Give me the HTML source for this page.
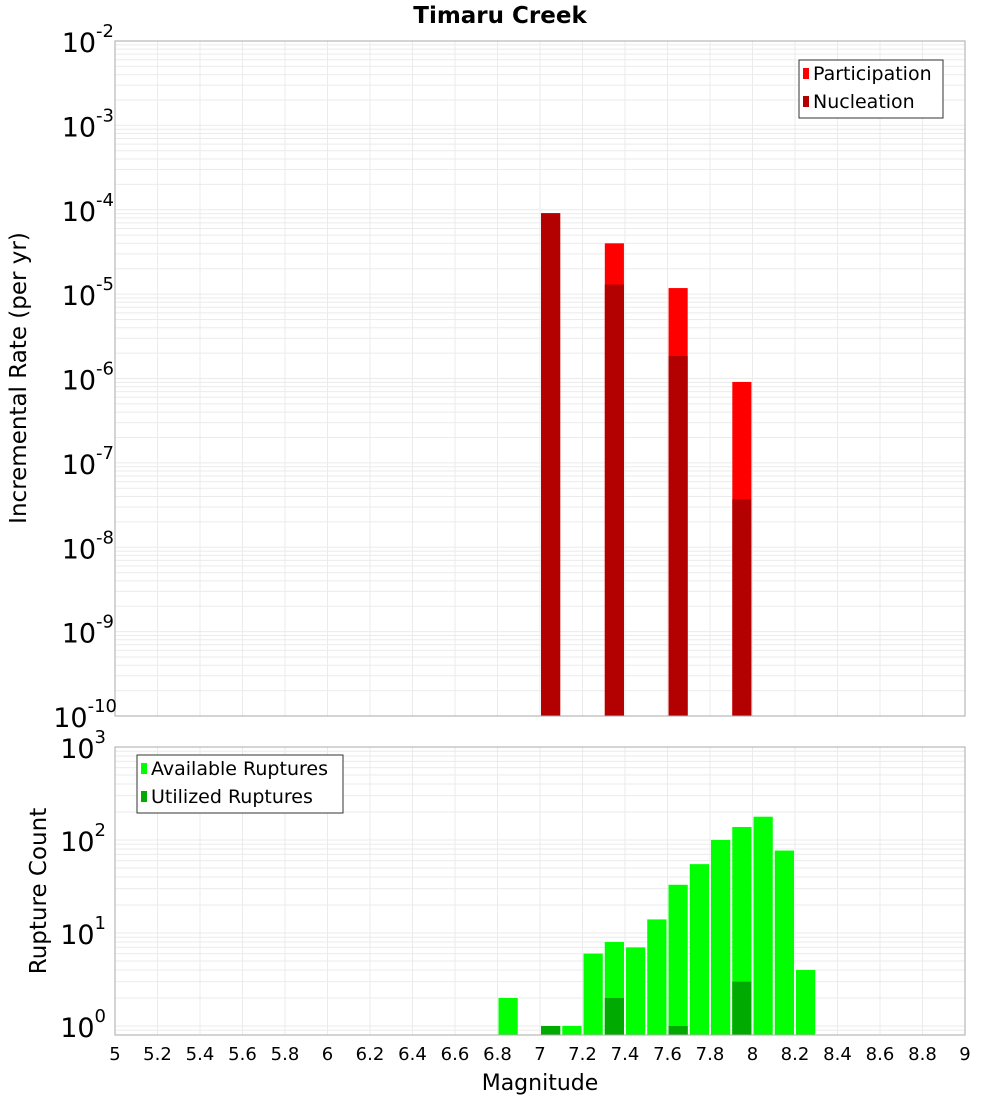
<!DOCTYPE html>
<html><head><meta charset="utf-8"><style>
body{margin:0;background:#fff;font-family:"Liberation Sans","DejaVu Sans",sans-serif}
svg text{font-family:"DejaVu Sans","Liberation Sans",sans-serif}
</style></head><body>
<svg id="c" width="1000" height="1100" xmlns="http://www.w3.org/2000/svg">
<text x="500" y="23" text-anchor="middle" font-size="23" font-weight="bold">Timaru Creek</text>
<text transform="translate(26,378) rotate(-90)" text-anchor="middle" font-size="23">Incremental Rate (per yr)</text>
<text transform="translate(46,891) rotate(-90)" text-anchor="middle" font-size="23">Rupture Count</text>
<text x="540" y="1090" text-anchor="middle" font-size="22">Magnitude</text>
<g id="g"></g>
</svg>
<script>
const rateMags=[7.05,7.35,7.65,7.95];
const participation=[9.1e-5,4.0e-5,1.18e-5,9.1e-7];
const nucleation=[9.1e-5,1.3e-5,1.85e-6,3.7e-8];
const countMags=[6.85,7.05,7.15,7.25,7.35,7.45,7.55,7.65,7.75,7.85,7.95,8.05,8.15,8.25];
const available=[2,1,1,6,8,7,14,33,55,100,138,178,77,4];
const utilMags=[7.05,7.35,7.65,7.95];
const utilized=[1,2,1,3];
const xTicks=[5,5.2,5.4,5.6,5.8,6,6.2,6.4,6.6,6.8,7,7.2,7.4,7.6,7.8,8,8.2,8.4,8.6,8.8,9];
const topExp=[-10,-9,-8,-7,-6,-5,-4,-3,-2];
const botExp=[0,1,2,3];

const NS="http://www.w3.org/2000/svg",G=document.getElementById('g');
function el(t,a,txt){const e=document.createElementNS(NS,t);for(const k in a)e.setAttribute(k,a[k]);if(txt!==undefined)e.textContent=txt;G.appendChild(e);return e;}
const L=115,R=965;
const x=m=>L+(m-5)/4*(R-L);
const T0=41,T1=716, yT=v=>T1-(Math.log10(v)+10)/8*(T1-T0);
const B0=747,B1=1035,Bz=1026, yB=v=>Bz-Math.log10(v)/3*(Bz-B0);

function grid(top,bot,yf,e0,e1){
  for(let m=5;m<=9.001;m+=0.2){const l=el('line',{x1:x(m),x2:x(m),y1:top,y2:bot,stroke:'#ebebeb'});}
  for(let e=e0;e<=e1;e++)for(let k=1;k<10;k++){const yy=yf(k*Math.pow(10,e));if(yy<top-0.5||yy>bot+0.5)continue;const l=el('line',{x1:L,x2:R,y1:yy,y2:yy,stroke:'#ebebeb'});}
}
grid(T0,T1,yT,-10,-2);
grid(B0,B1,yB,-1,3);

const bw=0.09;
rateMags.forEach((m,i)=>{
  const r=el('rect',{x:x(m-bw/2),y:yT(participation[i]),width:x(m+bw/2)-x(m-bw/2),height:T1-yT(participation[i]),fill:'#ff0000'});
  
  const n=el('rect',{x:x(m-bw/2),y:yT(nucleation[i]),width:x(m+bw/2)-x(m-bw/2),height:T1-yT(nucleation[i]),fill:'#b30000'});
  
});
countMags.forEach((m,i)=>{
  const r=el('rect',{x:x(m-0.05)+1,y:yB(available[i]),width:x(m+0.05)-x(m-0.05)-2,height:B1-yB(available[i]),fill:'#00ff00'});
  
});
utilMags.forEach((m,i)=>{
  const r=el('rect',{x:x(m-0.05)+1,y:yB(utilized[i]),width:x(m+0.05)-x(m-0.05)-2,height:B1-yB(utilized[i]),fill:'#00aa00'});
  
});
let f=el('rect',{x:L,y:T0,width:R-L,height:T1-T0,fill:'none',stroke:'#aaa'});
f=el('rect',{x:L,y:B0,width:R-L,height:B1-B0,fill:'none',stroke:'#aaa'});
xTicks.forEach(m=>{const t=el('text',{x:x(m),y:1060,'text-anchor':'middle','font-size':18},String(m));});
function ylab(yy,e){const t=el('text',{x:106,y:yy+11,'text-anchor':'end','font-size':27});
  const a=document.createElementNS(NS,'tspan');a.textContent='10';t.appendChild(a);const b=document.createElementNS(NS,'tspan');b.setAttribute('dy','-15');b.setAttribute('font-size','18');b.textContent=String(e);t.appendChild(b);
  if(String(e).length>2){t.setAttribute('x',117);}else if(String(e).length>1){t.setAttribute('x',114);}}
topExp.forEach(e=>ylab(yT(Math.pow(10,e)),e));
botExp.forEach(e=>ylab(yB(Math.pow(10,e)),e));
function legend(x0,y0,w,items){const b=el('rect',{x:x0,y:y0,width:w,height:58,fill:'#fff',stroke:'#333'});
  items.forEach((it,i)=>{const s=el('rect',{x:x0+4,y:y0+8+i*28,width:6,height:11,fill:it[1]});
  const t=el('text',{x:x0+14,y:y0+20+i*28,'font-size':19},it[0]);});}
legend(799,60,144,[['Participation','#ff0000'],['Nucleation','#b30000']]);
legend(137,755,206,[['Available Ruptures','#00ff00'],['Utilized Ruptures','#00aa00']]);
</script>
</body></html>
